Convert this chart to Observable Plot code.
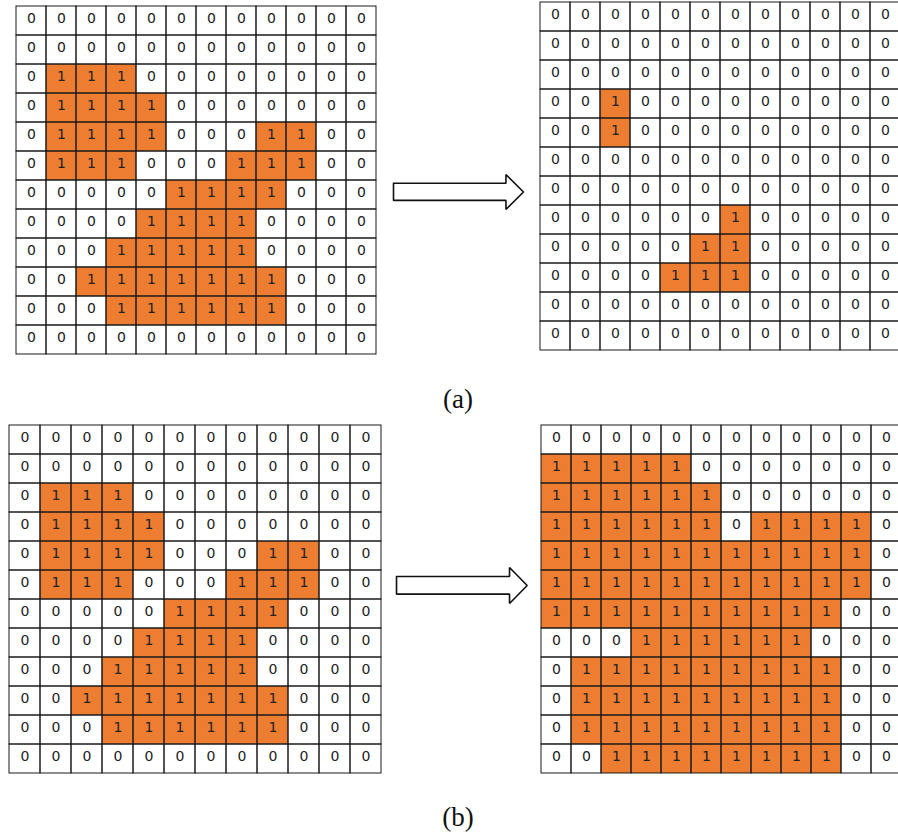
<!DOCTYPE html>
<html>
<head>
<meta charset="utf-8">
<script src="https://cdn.jsdelivr.net/npm/d3@7"></script>
<script src="https://cdn.jsdelivr.net/npm/@observablehq/plot@0.6"></script>
<style>
  html, body { margin: 0; padding: 0; background: #fff; overflow: hidden; }
  #figure { position: relative; width: 898px; height: 834px; overflow: hidden; background: #fff; }
  .panel { position: absolute; }
  .panel text { font-family: "DejaVu Sans", sans-serif !important; font-size: 14px !important; }
  .caption { position: absolute; font-family: "Liberation Serif", "DejaVu Serif", serif; font-size: 27px; color: #111; transform: translate(-50%, -50%); white-space: nowrap; }
</style>
</head>
<body>
<div id="figure"></div>
<script>
// Binary image before the operation (rows top to bottom)
const inputRows = [
  "000000000000",
  "000000000000",
  "011100000000",
  "011110000000",
  "011110001100",
  "011100011100",
  "000001111000",
  "000011110000",
  "000111110000",
  "001111111000",
  "000111111000",
  "000000000000"
];

// Result of erosion
const erodedRows = [
  "000000000000",
  "000000000000",
  "000000000000",
  "001000000000",
  "001000000000",
  "000000000000",
  "000000000000",
  "000000100000",
  "000001100000",
  "000011100000",
  "000000000000",
  "000000000000"
];

// Result of dilation
const dilatedRows = [
  "000000000000",
  "111110000000",
  "111111000000",
  "111111011110",
  "111111111110",
  "111111111110",
  "111111111100",
  "000111111000",
  "011111111100",
  "011111111100",
  "011111111100",
  "001111111100"
];

const captions = ["(a)", "(b)"];

const ORANGE = "#ED7D31";
const LINE = "#1a1a1a";
const INDEX = d3.range(12);

const figure = document.getElementById("figure");

function cellsOf(rows) {
  return rows.flatMap((r, i) => [...r].map((ch, j) => ({row: i, col: j, v: +ch})));
}

function place(node, left, top) {
  node.classList.add("panel");
  node.style.left = left + "px";
  node.style.top = top + "px";
  figure.appendChild(node);
}

// A 12x12 grid of labelled cells, filled orange where the value is 1
function drawGrid(rows, box) {
  const data = cellsOf(rows);
  const svg = Plot.plot({
    width: box.w + 2,
    height: box.h + 2,
    margin: 1,
    x: {type: "band", domain: INDEX, padding: 0, axis: null},
    y: {type: "band", domain: INDEX, padding: 0, axis: null},
    color: {type: "ordinal", domain: [0, 1], range: ["#ffffff", ORANGE]},
    style: {background: "transparent", overflow: "visible"},
    marks: [
      Plot.cell(data, {x: "col", y: "row", fill: "v", inset: 0}),
      Plot.cell(data, {x: "col", y: "row", fill: "none", stroke: LINE, strokeWidth: 1, inset: 0}),
      Plot.text(data, {
        x: "col", y: "row", text: "v",
        fontSize: 14, fontFamily: "DejaVu Sans", fill: "#222", dy: -2
      })
    ]
  });
  place(svg, box.left - 1, box.top - 1);
}

// Hollow block arrow between the two grids of a row
const arrowShape = [
  {x: 0, y: 0.25}, {x: 0.865, y: 0.25}, {x: 0.865, y: 0}, {x: 1, y: 0.5},
  {x: 0.865, y: 1}, {x: 0.865, y: 0.74}, {x: 0, y: 0.74}, {x: 0, y: 0.25}
];

function drawArrow(box) {
  const svg = Plot.plot({
    width: box.w + 4,
    height: box.h + 4,
    margin: 0,
    x: {domain: [0, 1], range: [2, box.w + 2], axis: null},
    y: {domain: [0, 1], range: [2, box.h + 2], axis: null},
    style: {background: "transparent", overflow: "visible"},
    marks: [
      Plot.line(arrowShape, {x: "x", y: "y", fill: "white", stroke: "#111", strokeWidth: 1.6, strokeLinejoin: "miter", curve: "linear"})
    ]
  });
  place(svg, box.left - 2, box.top - 2);
}

function drawCaption(text, cx, cy) {
  const d = document.createElement("div");
  d.className = "caption";
  d.textContent = text;
  d.style.left = cx + "px";
  d.style.top = cy + "px";
  figure.appendChild(d);
}

// (a) erosion
drawGrid(inputRows,  {left: 10.5,  top: 5.5,   w: 369.8, h: 348.5});
drawArrow({left: 392.7, top: 174, w: 130, h: 35});
drawGrid(erodedRows, {left: 535,   top: 0.5,   w: 369.0, h: 349.5});
drawCaption(captions[0], 458, 399);

// (b) dilation
drawGrid(inputRows,  {left: 8.5,   top: 424,   w: 372,   h: 349});
drawArrow({left: 396, top: 566.7, w: 130.7, h: 36});
drawGrid(dilatedRows, {left: 535.3, top: 424.3, w: 371.6, h: 349.7});
drawCaption(captions[1], 458, 817);
</script>
</body>
</html>
